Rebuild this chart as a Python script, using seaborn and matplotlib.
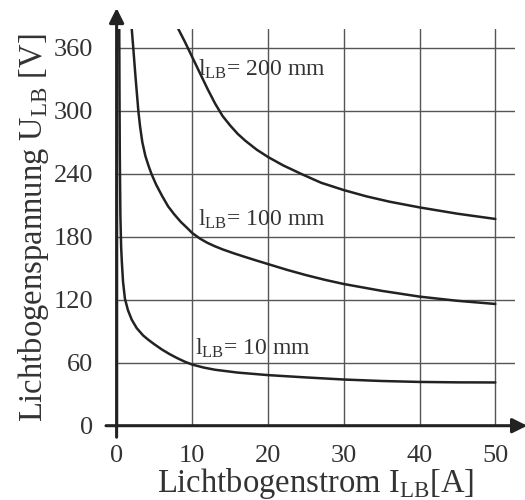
import pandas as pd
import seaborn as sns
import matplotlib
matplotlib.use("Agg")
import matplotlib.pyplot as plt

# values
current_10 = [0.35, 0.38, 0.42, 0.5, 0.6, 0.7, 0.85, 1.1, 1.5, 2.0, 2.65, 3.5, 4.2, 5, 6, 7, 8, 9, 10,
              11.5, 13, 16, 20, 25, 30, 35, 40, 45, 50]
voltage_10 = [378, 320, 260, 200, 170, 155, 137, 121, 110, 101, 93, 86, 81.8, 77.5, 72.5, 68.2, 64.4, 61, 58.2,
              55.4, 53.3, 50.6, 48.2, 46, 44, 42.6, 41.7, 41.3, 41.2]

current_100 = [2.0, 2.2, 2.5, 2.87, 3.1, 3.4, 3.8, 4.2, 4.6, 5.2, 6, 6.8, 7.6, 8.5, 9.3, 10, 11, 12, 13, 14,
               15.5, 17, 18.5, 20, 22.5, 25, 27.5, 30, 35, 40, 45, 50]
voltage_100 = [378, 360, 332, 300, 285, 270, 257, 248, 240, 230, 219, 209, 201.5, 194, 188.5, 183.5, 178.3, 174.2, 170.9, 168,
               164.2, 160.7, 157.3, 154, 148.5, 143.5, 139, 135, 128.5, 123, 119, 116]

current_200 = [8.15, 9, 10, 11, 12, 13, 14, 15, 16, 17, 18.5, 20, 22, 24.5, 27, 30, 33, 36, 40, 45, 50]
voltage_200 = [378, 366, 351, 336, 321, 307, 295, 286, 278, 271.5, 263, 256, 248, 239.5, 231.5, 224.5, 218.5, 213.5, 208, 202, 197]

x_ticks = [0, 10, 20, 30, 40, 50]
y_ticks = [0, 60, 120, 180, 240, 300, 360]

curve_labels = [r"$\mathrm{l_{LB}}$= 200 mm", r"$\mathrm{l_{LB}}$= 100 mm", r"$\mathrm{l_{LB}}$= 10 mm"]
label_pos = [(10.7, 340), (10.7, 197), (10.3, 74)]

sns.set_style("white")
plt.rcParams["font.family"] = ["Liberation Serif", "DejaVu Serif"]
plt.rcParams["mathtext.fontset"] = "custom"
plt.rcParams["mathtext.rm"] = "Liberation Serif"

ink = "#222222"
text_col = "#333333"

df = pd.concat([
    pd.DataFrame({"I": current_10, "U": voltage_10, "l": "10"}),
    pd.DataFrame({"I": current_100, "U": voltage_100, "l": "100"}),
    pd.DataFrame({"I": current_200, "U": voltage_200, "l": "200"}),
])

fig = plt.figure(figsize=(5.25, 5.0), dpi=100)
ax = fig.add_axes([0.2221, 0.1486, 0.7589, 0.7934])

sns.lineplot(data=df, x="I", y="U", units="l", estimator=None, sort=False,
             color=ink, lw=1.8, ax=ax, legend=False)

ax.set_xlim(0, 52.6)
ax.set_ylim(0, 378)
ax.set_xticks(x_ticks)
ax.set_yticks(y_ticks)
ax.grid(True, color="#555555", lw=1.0)
for s in ax.spines.values():
    s.set_visible(False)

ax.tick_params(axis="both", direction="inout", length=22, width=1.8, color=ink,
               labelsize=19, labelcolor=text_col)
ax.tick_params(axis="y", pad=6)
ax.tick_params(axis="x", pad=3)

# axis arrows
arrow = dict(arrowstyle="-|>", lw=2.2, color=ink, mutation_scale=22, shrinkA=0, shrinkB=0)
ax.annotate("", xy=(0, 398), xytext=(0, -11), arrowprops=arrow, annotation_clip=False)
ax.annotate("", xy=(54.2, 0), xytext=(-1.4, 0), arrowprops=arrow, annotation_clip=False)

for txt, (lx, ly) in zip(curve_labels, label_pos):
    ax.text(lx, ly, txt, fontsize=17, color=text_col, ha="left", va="center")

ax.set_xlabel(r"Lichtbogenstrom I$_{\mathrm{LB}}$[A]", fontsize=23.5, color=text_col, labelpad=-1)
ax.set_ylabel(r"Lichtbogenspannung U$_{\mathrm{LB}}$ [V]", fontsize=23.5, color=text_col, labelpad=2)

fig.savefig("out.png", dpi=100)
